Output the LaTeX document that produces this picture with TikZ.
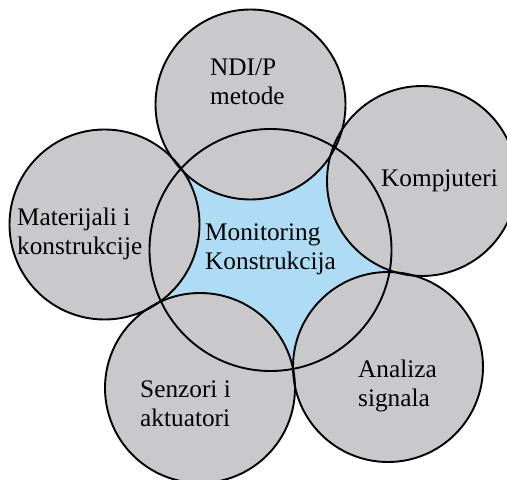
\documentclass[tikz,border=0pt]{standalone}
\usepackage{fontspec}
\setmainfont{Liberation Serif}
\usetikzlibrary{backgrounds}

\definecolor{coreBlue}{RGB}{174,220,244}
\definecolor{fieldGray}{RGB}{201,201,203}

\begin{document}
\begin{tikzpicture}
    [x=1pt, y=1pt,
     elementCore/.style={circle, draw=black, line width=1.9pt, inner sep=0pt, minimum size=242pt},
     elementField/.style={circle, draw=black, line width=1.9pt, inner sep=0pt, minimum size=190pt},
     labelText/.style={inner sep=0pt, align=left, font=\fontsize{25.3}{29}\selectfont},
    ]

    \useasboundingbox (0,0) rectangle (507,480);
    \clip (0,0) rectangle (507,480);

    % the five fields round the core
    \node[elementCore] (core) at (270.5,230) {};
    \node[elementField] (ndi) at (250.5,375.5) {};
    \node[elementField] (komp) at (422,299) {};
    \node[elementField] (mat) at (104.5,255.5) {};
    \node[elementField] (senz) at (200,92) {};
    \node[elementField] (anal) at (388,113) {};

    % fills go under all the outlines
    \begin{scope}[on background layer]
        \fill[coreBlue] (core.center) circle[radius=121pt];
        \foreach \f in {ndi,komp,mat,senz,anal}
            \fill[fieldGray] (\f.center) circle[radius=95pt];
    \end{scope}

    \node[labelText, anchor=west] (ndiText) at (210,398.5) {NDI/P\\metode};
    \node[labelText, anchor=base west] (kompText) at (381,293) {Kompjuteri};
    \node[labelText, anchor=west] (matText) at (17,246) {Materijali i\\konstrukcije};
    \node[labelText, anchor=west] (coreText) at (205,230.2) {Monitoring\\Konstrukcija};
    \node[labelText, anchor=west] (senzText) at (140,76.5) {Senzori i\\aktuatori};
    \node[labelText, anchor=west] (analText) at (358,93.7) {Analiza\\signala};

\end{tikzpicture}
\end{document}
